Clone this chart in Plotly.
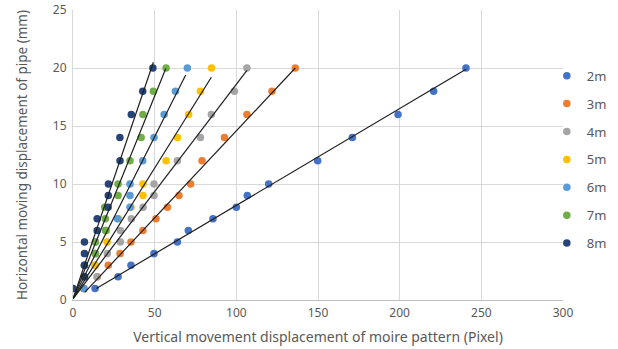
import plotly.graph_objects as go

# ---- data ----
series_names = ["2m", "3m", "4m", "5m", "6m", "7m", "8m"]
series_colors = ["#4472C4", "#ED7D31", "#A5A5A5", "#FFC000", "#5B9BD5", "#70AD47", "#264478"]

displacement_mm = [1, 2, 3, 4, 5, 6, 7, 8, 9, 10, 12, 14, 16, 18, 20]

pixels_2m = [13.5, 27.6, 35.5, 49.6, 63.9, 70.6, 85.7, 100, 106.7, 119.8, 149.8, 171, 199, 220.8, 240.6]
pixels_3m = [6.6, 14.9, 21.6, 28.8, 35.5, 42.8, 50.8, 57.8, 64.9, 72, 79, 92.7, 106.5, 121.8, 136.1]
pixels_4m = [6.6, 14.7, 13.6, 21.0, 29.0, 29.0, 35.7, 42.9, 49.6, 49.6, 63.9, 78, 84.7, 98.8, 106.5]
pixels_5m = [6.6, 7.0, 13.5, 13.7, 20.9, 20.5, 28.0, 35.5, 42.9, 42.8, 57, 63.9, 70.8, 78, 84.8]
pixels_6m = [6.6, 7.0, 7.0, 13.7, 13.7, 20.0, 27.2, 34.9, 34.9, 34.9, 42.7, 49.6, 55.8, 62.7, 70]
pixels_7m = [0.0, 7.0, 7.0, 13.7, 13.7, 20.0, 19.8, 19.4, 27.6, 27.6, 34.9, 41.7, 42.8, 49.2, 57]
pixels_8m = [0.0, 7.0, 7.0, 7.0, 7.0, 14.8, 14.8, 21.5, 21.6, 21.7, 28.8, 28.7, 35.7, 42.7, 48.9]

series_pixels = [pixels_2m, pixels_3m, pixels_4m, pixels_5m, pixels_6m, pixels_7m, pixels_8m]

# fitted line end points
trend_x_start = [14.3, 7.2, 0.0, 0.0, 0.0, 0.0, 0.0]
trend_y_start = [1.0, 0.66, 0.1, 0.1, 0.1, 0.1, 0.1]
trend_x_end = [240.6, 136.1, 106.5, 84.7, 69.0, 56.8, 49.2]
trend_y_end = [19.9, 20.0, 19.8, 19.2, 19.4, 19.95, 20.5]

x_ticks = [0, 50, 100, 150, 200, 250, 300]
y_ticks = [0, 5, 10, 15, 20, 25]

FONT = "Noto Sans"
TXT = "#595959"

fig = go.Figure()

for i, name in enumerate(series_names):
    fig.add_trace(go.Scatter(
        x=series_pixels[i], y=displacement_mm, mode="markers", name=name,
        legendgroup=name,
        marker=dict(color=series_colors[i], size=7.5, line=dict(width=0)),
    ))

for i, name in enumerate(series_names):
    fig.add_trace(go.Scatter(
        x=[trend_x_start[i], trend_x_end[i]], y=[trend_y_start[i], trend_y_end[i]],
        mode="lines", showlegend=False, legendgroup=name + "_fit",
        line=dict(color="#1f1f1f", width=1.2), hoverinfo="skip",
    ))

fig.update_layout(
    width=618, height=349,
    margin=dict(l=73, r=55, t=10, b=49, autoexpand=False),
    paper_bgcolor="white", plot_bgcolor="white",
    font=dict(family=FONT, color=TXT, size=12),
    showlegend=True,
    legend=dict(
        x=0.967, xanchor="left", y=0.825, yanchor="top",
        bgcolor="rgba(0,0,0,0)", font=dict(size=13, color=TXT, family=FONT),
        traceorder="grouped", tracegroupgap=8, itemwidth=30,
    ),
    xaxis=dict(
        range=[0, 300], tickvals=x_ticks, ticktext=[str(v) for v in x_ticks],
        showgrid=True, gridcolor="#D9D9D9", gridwidth=1, automargin=False,
        zeroline=False, showline=True, linecolor="#BFBFBF", linewidth=1,
        ticks="", tickfont=dict(size=12, color=TXT), ticklabelstandoff=2,
        title=dict(text="Vertical movement displacement of moire pattern (Pixel)",
                   font=dict(size=14, color=TXT), standoff=11),
    ),
    yaxis=dict(
        range=[0, 25], tickvals=y_ticks, ticktext=[str(v) for v in y_ticks],
        showgrid=True, gridcolor="#D9D9D9", gridwidth=1, automargin=False,
        zeroline=False, showline=True, linecolor="#D9D9D9", linewidth=1,
        ticks="", tickfont=dict(size=12, color=TXT), ticklabelstandoff=3,
        title=dict(text="Horizontal moving displacement of pipe (mm)",
                   font=dict(size=13.5, color=TXT), standoff=22),
    ),
)

# remove the default page margin so the figure sits at the window's top-left corner
fig.write_html("out.html", config={"displayModeBar": False},
               post_script="document.body.style.margin='0';")
